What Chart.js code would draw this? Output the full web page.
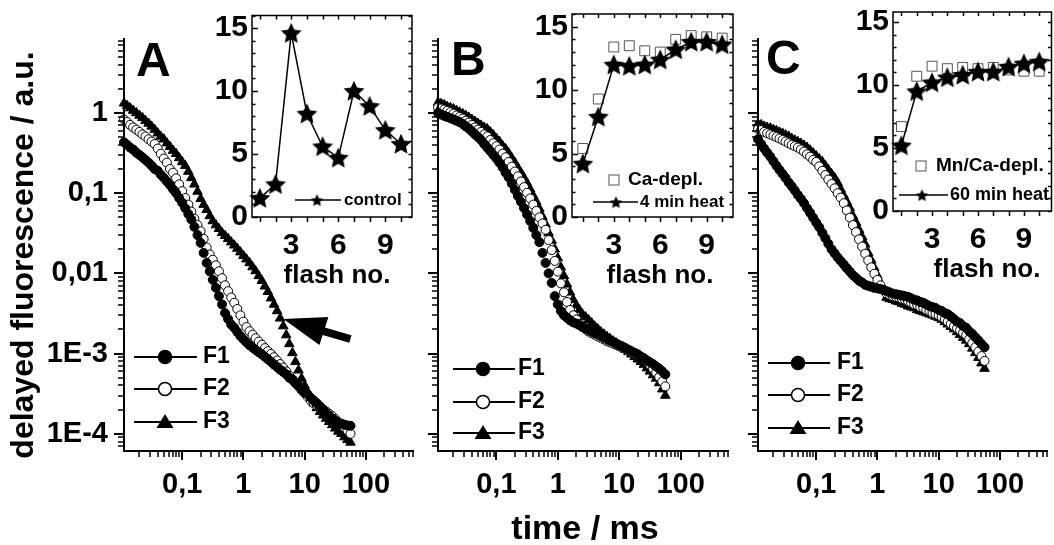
<!DOCTYPE html>
<html>
<head>
<meta charset="utf-8">
<script src="https://cdn.jsdelivr.net/npm/chart.js@4.4.1/dist/chart.umd.min.js"></script>
<style>
html, body { margin: 0; padding: 0; background: #fff; overflow: hidden; width: 1054px; height: 545px; position: relative; }
canvas { position: absolute; }
</style>
</head>
<body>
<script>
// time axis (ms), shared by all decay curves
const timeMs = [0.0112, 0.0126, 0.0141, 0.0158, 0.0178, 0.02, 0.0224, 0.0251, 0.0282, 0.0316, 0.0355, 0.0398, 0.0447, 0.0501, 0.0562, 0.0631, 0.0708, 0.0794, 0.0891,
  0.1, 0.112, 0.126, 0.141, 0.158, 0.178, 0.2, 0.224, 0.251, 0.282, 0.316, 0.355, 0.398, 0.447, 0.501, 0.562, 0.631, 0.708, 0.794, 0.891,
  1, 1.12, 1.26, 1.41, 1.58, 1.78, 2, 2.24, 2.51, 2.82, 3.16, 3.55, 3.98, 4.47, 5.01, 5.62, 6.31, 7.08, 7.94, 8.91,
  10, 11.2, 12.6, 14.1, 15.8, 17.8, 20, 22.4, 25.1, 28.2, 31.6, 35.5, 39.8, 44.7, 50.1, 56.2];

// panel A (control)
const panelA_F1 = [0.43, 0.40, 0.37, 0.35, 0.32, 0.30, 0.28, 0.26, 0.24, 0.22, 0.20, 0.19, 0.17, 0.155, 0.14, 0.126, 0.112, 0.1, 0.087,
  0.076, 0.065, 0.055, 0.047, 0.038, 0.030, 0.024, 0.018, 0.0135, 0.0106, 0.0083, 0.0066, 0.0052, 0.0041, 0.0032, 0.0027, 0.0023, 0.0021, 0.00186, 0.00166,
  0.00151, 0.00138, 0.00127, 0.00119, 0.00111, 0.00104, 0.00098, 0.00091, 0.00085, 0.00079, 0.00073, 0.00068, 0.00063, 0.00059, 0.00055, 0.00050, 0.00047, 0.00043, 0.00040, 0.00036,
  0.00033, 0.00031, 0.00028, 0.00026, 0.00024, 0.00022, 0.00020, 0.000182, 0.000168, 0.000155, 0.000146, 0.000138, 0.000133, 0.000130, 0.000127, 0.000126];
const panelA_F2 = [0.83, 0.77, 0.71, 0.66, 0.62, 0.58, 0.54, 0.51, 0.47, 0.44, 0.41, 0.36, 0.31, 0.27, 0.24, 0.20, 0.18, 0.153, 0.129,
  0.106, 0.087, 0.072, 0.059, 0.048, 0.040, 0.0335, 0.027, 0.021, 0.0172, 0.0148, 0.0126, 0.0106, 0.0087, 0.0071, 0.0060, 0.0050, 0.0043, 0.0036, 0.0030,
  0.0025, 0.00214, 0.0019, 0.00172, 0.00155, 0.00141, 0.00129, 0.00117, 0.00107, 0.00099, 0.0009, 0.00082, 0.00074, 0.00067, 0.0006, 0.00053, 0.00048, 0.00043, 0.00039, 0.00035,
  0.00032, 0.00029, 0.00026, 0.00024, 0.000226, 0.000214, 0.000202, 0.00019, 0.000178, 0.000166, 0.000153, 0.00014, 0.000132, 0.00012, 0.00011, 0.0001];
const panelA_F3 = [1.32, 1.23, 1.15, 1.07, 1.0, 0.93, 0.87, 0.80, 0.74, 0.68, 0.62, 0.56, 0.51, 0.47, 0.42, 0.38, 0.34, 0.31, 0.275,
  0.245, 0.22, 0.186, 0.155, 0.129, 0.105, 0.085, 0.072, 0.062, 0.052, 0.045, 0.040, 0.036, 0.032, 0.0295, 0.027, 0.0245, 0.0224, 0.0204, 0.0184,
  0.0166, 0.015, 0.0135, 0.012, 0.0107, 0.0093, 0.0081, 0.0069, 0.0059, 0.0049, 0.0041, 0.0034, 0.00275, 0.0022, 0.0017, 0.00132, 0.00102, 0.00079, 0.00062, 0.00049,
  0.00040, 0.00033, 0.00028, 0.00024, 0.00021, 0.000188, 0.00017, 0.000155, 0.000141, 0.000129, 0.000117, 0.000107, 0.0001, 0.000091, 0.000084, 0.000078];

// panel B
const panelB_F1 = [1.0, 0.955, 0.92, 0.89, 0.86, 0.83, 0.80, 0.77, 0.73, 0.68, 0.64, 0.59, 0.54, 0.50, 0.46, 0.41, 0.37, 0.335, 0.30,
  0.27, 0.24, 0.21, 0.18, 0.158, 0.132, 0.11, 0.092, 0.078, 0.065, 0.054, 0.045, 0.037, 0.030, 0.0245, 0.018, 0.0135, 0.01, 0.0076, 0.0052,
  0.0041, 0.0034, 0.0030, 0.0028, 0.0026, 0.00245, 0.00237, 0.00226, 0.00216, 0.00207, 0.00197, 0.00188, 0.0018, 0.00174, 0.00166, 0.00158, 0.00151, 0.00145, 0.0014, 0.00133,
  0.00127, 0.00123, 0.00117, 0.00112, 0.00107, 0.00102, 0.00098, 0.00092, 0.00087, 0.00082, 0.00078, 0.00074, 0.00069, 0.00065, 0.0006, 0.00055];
const panelB_F2 = [1.17, 1.135, 1.10, 1.06, 1.02, 0.98, 0.93, 0.89, 0.85, 0.80, 0.76, 0.71, 0.66, 0.62, 0.58, 0.54, 0.51, 0.46, 0.42,
  0.385, 0.35, 0.31, 0.28, 0.245, 0.214, 0.186, 0.162, 0.14, 0.119, 0.101, 0.086, 0.072, 0.06, 0.05, 0.042, 0.035, 0.026, 0.0195, 0.0143,
  0.0105, 0.0075, 0.0058, 0.0044, 0.0035, 0.003, 0.00266, 0.00234, 0.00216, 0.00202, 0.00188, 0.0018, 0.00172, 0.00164, 0.00157, 0.0015, 0.00143, 0.00138, 0.00133, 0.00129,
  0.00123, 0.00119, 0.00114, 0.00108, 0.00104, 0.00099, 0.00095, 0.00091, 0.00087, 0.00079, 0.00072, 0.00065, 0.00058, 0.00051, 0.00045, 0.00039];
const panelB_F3 = [1.35, 1.30, 1.26, 1.20, 1.16, 1.12, 1.07, 1.02, 0.98, 0.93, 0.88, 0.83, 0.785, 0.74, 0.70, 0.66, 0.63, 0.58, 0.53,
  0.48, 0.44, 0.39, 0.355, 0.316, 0.275, 0.24, 0.207, 0.18, 0.155, 0.133, 0.112, 0.093, 0.078, 0.064, 0.051, 0.041, 0.032, 0.0257, 0.02,
  0.0155, 0.0119, 0.0093, 0.0073, 0.0058, 0.0047, 0.004, 0.0035, 0.0031, 0.00285, 0.00263, 0.0024, 0.00219, 0.00202, 0.00186, 0.00174, 0.00162, 0.00153, 0.00143, 0.00135,
  0.00127, 0.0012, 0.00112, 0.00105, 0.00098, 0.00091, 0.00085, 0.00079, 0.00073, 0.00066, 0.0006, 0.00054, 0.00049, 0.00043, 0.00036, 0.0003];

// panel C
const panelC_F1 = [0.47, 0.41, 0.36, 0.32, 0.285, 0.25, 0.22, 0.195, 0.174, 0.155, 0.136, 0.122, 0.108, 0.095, 0.085, 0.075, 0.065, 0.057, 0.0495,
  0.043, 0.0376, 0.032, 0.0275, 0.0234, 0.02, 0.0178, 0.0158, 0.0143, 0.0129, 0.0116, 0.0105, 0.0095, 0.0088, 0.0081, 0.0077, 0.0072, 0.007, 0.0068, 0.0066,
  0.0065, 0.0064, 0.0062, 0.006, 0.0058, 0.0056, 0.0055, 0.0054, 0.0053, 0.0052, 0.0051, 0.0049, 0.0047, 0.0046, 0.0044, 0.0043, 0.0041, 0.0039, 0.0038, 0.0037,
  0.0035, 0.0034, 0.0032, 0.0031, 0.0029, 0.0027, 0.0025, 0.0024, 0.0022, 0.0021, 0.0019, 0.00176, 0.0016, 0.00146, 0.00132, 0.0012];
const panelC_F2 = [0.63, 0.61, 0.58, 0.56, 0.54, 0.52, 0.50, 0.48, 0.46, 0.44, 0.42, 0.40, 0.385, 0.37, 0.35, 0.33, 0.305, 0.285, 0.26,
  0.245, 0.216, 0.19, 0.168, 0.148, 0.13, 0.115, 0.1, 0.088, 0.075, 0.061, 0.0495, 0.04, 0.0327, 0.0266, 0.0216, 0.0176, 0.0145, 0.0119, 0.0099,
  0.0083, 0.0071, 0.0062, 0.0056, 0.0054, 0.0052, 0.0051, 0.005, 0.0048, 0.0047, 0.0045, 0.0043, 0.0041, 0.004, 0.0038, 0.0037, 0.0035, 0.0034, 0.0032, 0.0031,
  0.003, 0.00285, 0.0027, 0.0025, 0.00234, 0.0022, 0.00207, 0.00195, 0.00182, 0.0017, 0.00151, 0.00135, 0.0012, 0.00106, 0.00093, 0.00081];
const panelC_F3 = [0.73, 0.71, 0.68, 0.66, 0.645, 0.62, 0.60, 0.575, 0.556, 0.53, 0.51, 0.48, 0.457, 0.437, 0.417, 0.394, 0.37, 0.343, 0.316,
  0.29, 0.266, 0.245, 0.219, 0.195, 0.174, 0.155, 0.135, 0.112, 0.093, 0.078, 0.065, 0.052, 0.043, 0.035, 0.0285, 0.023, 0.018, 0.0146, 0.0117,
  0.0094, 0.0076, 0.0062, 0.005, 0.0048, 0.0047, 0.0045, 0.0044, 0.0042, 0.0041, 0.0039, 0.0038, 0.0037, 0.0035, 0.0034, 0.0033, 0.0032, 0.0031, 0.003, 0.0029,
  0.0028, 0.00266, 0.00248, 0.00232, 0.00216, 0.00202, 0.00186, 0.00172, 0.00158, 0.00146, 0.00132, 0.00116, 0.00102, 0.00089, 0.00076, 0.00065];

// insets: amplitude vs flash number
const flashNo = [1, 2, 3, 4, 5, 6, 7, 8, 9, 10];
const insetA_control = [1.5, 2.6, 14.6, 8.2, 5.6, 4.7, 10.0, 8.8, 6.9, 5.8];
const insetB_caDepl = [5.4, 9.3, 13.4, 13.5, 13.1, 13.0, 14.0, 14.3, 14.2, 14.1];
const insetB_heat4 = [4.2, 7.9, 12.0, 11.9, 12.0, 12.4, 13.2, 13.8, 13.8, 13.6];
const insetC_mnCaDepl = [6.7, 10.7, 11.5, 11.3, 11.4, 11.3, 11.4, 11.2, 11.1, 11.1];
const insetC_heat60 = [5.2, 9.5, 10.2, 10.6, 10.8, 11.05, 11.05, 11.45, 11.7, 11.85];

const seriesNames = ['F1', 'F2', 'F3'];
const xTickValues = [0.1, 1, 10, 100];
const xTickLabels = ['0,1', '1', '10', '100'];
const yTickValues = [0.0001, 0.001, 0.01, 0.1, 1];
const yTickLabels = ['1E-4', '1E-3', '0,01', '0,1', '1'];
const flashTickValues = [3, 6, 9];
const flashTickLabels = ['3', '6', '9'];
const insetYTickValues = [0, 5, 10, 15];
const insetYTickLabels = ['0', '5', '10', '15'];

const arrowTip = {t: 4.5, v: 0.0027};

const FONT = '"Liberation Sans", Arial, Helvetica, sans-serif';
const OY = 40, CW = 1064, CH = 585;
const X_RANGE = [0.0112, 612];
const Y_RANGE = [6.1e-5, 8.6];

function addCanvas() {
  const c = document.createElement('canvas');
  c.width = CW; c.height = CH;
  c.style.left = '0px'; c.style.top = (-OY) + 'px';
  c.style.width = CW + 'px'; c.style.height = CH + 'px';
  document.body.appendChild(c);
  return c;
}

const pts = (xs, ys) => xs.map((x, i) => ({x: x, y: ys[i]}));

function txt(ctx, s, x, y, size, align, base) {
  ctx.font = 'bold ' + size + 'px ' + FONT;
  ctx.textAlign = align || 'left';
  ctx.textBaseline = base || 'alphabetic';
  ctx.fillText(s, x, y);
}

function seg(ctx, x1, y1, x2, y2) {
  ctx.beginPath(); ctx.moveTo(x1, y1); ctx.lineTo(x2, y2); ctx.stroke();
}

function starCanvas(R) {
  const s = Math.ceil(R * 2 + 2);
  const c = document.createElement('canvas');
  c.width = s; c.height = s;
  const g = c.getContext('2d');
  g.fillStyle = '#000';
  g.beginPath();
  for (let i = 0; i < 10; i++) {
    const r = i % 2 ? R * 0.48 : R;
    const a = -Math.PI / 2 + i * Math.PI / 5;
    g.lineTo(s / 2 + r * Math.cos(a), s / 2 + 0.8 + r * Math.sin(a));
  }
  g.closePath(); g.fill();
  return c;
}
const starBig = starCanvas(11);
const starSmall = starCanvas(6.5);

function logTicks(scale) {
  const out = [];
  const lo = Math.floor(Math.log10(scale.min)), hi = Math.ceil(Math.log10(scale.max));
  for (let e = lo; e <= hi; e++) {
    for (let k = 1; k <= 9; k++) {
      const v = k * Math.pow(10, e);
      if (v >= scale.min && v <= scale.max) out.push({v: v, major: k === 1});
    }
  }
  return out;
}

function legendMarker(ctx, i, x, y) {
  ctx.beginPath();
  if (i < 2) {
    ctx.arc(x, y, 6.5, 0, Math.PI * 2);
    ctx.fillStyle = i === 0 ? '#000' : '#fff';
    ctx.fill();
    ctx.lineWidth = 1.5; ctx.stroke();
  } else {
    ctx.moveTo(x, y - 8); ctx.lineTo(x + 8.5, y + 6); ctx.lineTo(x - 8.5, y + 6); ctx.closePath();
    ctx.fillStyle = '#000'; ctx.fill();
  }
  ctx.fillStyle = '#000';
}

function decorMain(chart, p) {
  const ctx = chart.ctx, a = chart.chartArea, xs = chart.scales.x, ys = chart.scales.y;
  ctx.save();
  ctx.strokeStyle = '#000'; ctx.fillStyle = '#000';
  ctx.lineWidth = 2;
  ctx.beginPath(); ctx.moveTo(a.left, a.top); ctx.lineTo(a.left, a.bottom); ctx.lineTo(a.right, a.bottom); ctx.stroke();
  logTicks(xs).forEach(t => {
    const px = Math.round(xs.getPixelForValue(t.v));
    ctx.lineWidth = t.major ? 2 : 1.5;
    seg(ctx, px, a.bottom, px, a.bottom + (t.major ? 9 : 6));
  });
  logTicks(ys).forEach(t => {
    const py = Math.round(ys.getPixelForValue(t.v));
    ctx.lineWidth = t.major ? 2 : 1.5;
    seg(ctx, a.left, py, a.left - (t.major ? 10 : 6), py);
  });
  if (p.arrow) {
    const tx = xs.getPixelForValue(arrowTip.t), ty = ys.getPixelForValue(arrowTip.v);
    ctx.beginPath(); ctx.moveTo(tx, ty); ctx.lineTo(tx + 45, ty - 2); ctx.lineTo(tx + 36, ty + 26); ctx.closePath(); ctx.fill();
    ctx.lineWidth = 8;
    seg(ctx, tx + 36, ty + 11, tx + 67, ty + 20);
  }
  ctx.translate(0, OY);
  const lg = p.legend;
  lg.ys.forEach((y, i) => {
    ctx.lineWidth = 2;
    seg(ctx, lg.x1, y, lg.x2, y);
    legendMarker(ctx, i, lg.xm, y);
    txt(ctx, seriesNames[i], lg.xt, y, 23, 'left', 'middle');
  });
  txt(ctx, p.letter, p.letterX, p.letterY, 48, 'left', 'alphabetic');
  if (p.yTitle) {
    ctx.save(); ctx.translate(24, 255); ctx.rotate(-Math.PI / 2);
    txt(ctx, p.yTitle, 0, 0, 32, 'center', 'middle');
    ctx.restore();
  }
  if (p.xTitle) txt(ctx, p.xTitle, 585, 539, 34, 'center', 'alphabetic');
  ctx.restore();
}

function mainChart(p) {
  const yW = 110, xH = 60;
  const tickFont = {family: FONT, size: 29, weight: 'bold'};
  return new Chart(addCanvas(), {
    type: 'scatter',
    data: {
      datasets: [
        {label: 'F1', data: pts(timeMs, p.series[0]), pointStyle: 'circle', pointRadius: 4.5, pointBackgroundColor: '#000', pointBorderColor: '#000', pointBorderWidth: 1, clip: false},
        {label: 'F2', data: pts(timeMs, p.series[1]), pointStyle: 'circle', pointRadius: 4.5, pointBackgroundColor: '#fff', pointBorderColor: '#000', pointBorderWidth: 1, clip: false},
        {label: 'F3', data: pts(timeMs, p.series[2]), pointStyle: 'triangle', pointRadius: 5.5, pointBackgroundColor: '#000', pointBorderColor: '#000', pointBorderWidth: 1, clip: false}
      ]
    },
    options: {
      responsive: false, animation: false, devicePixelRatio: 1, events: [],
      layout: {padding: {left: p.box.left - yW, right: CW - p.box.right, top: p.box.top + OY, bottom: CH - (p.box.bottom + OY) - xH}},
      plugins: {legend: {display: false}, tooltip: {enabled: false}},
      scales: {
        x: {
          type: 'logarithmic', min: X_RANGE[0], max: X_RANGE[1],
          grid: {display: false, drawTicks: false}, border: {display: false},
          afterBuildTicks: s => { s.ticks = xTickValues.map(v => ({value: v})); },
          afterFit: s => { s.height = xH; },
          ticks: {autoSkip: false, maxRotation: 0, padding: 17, color: '#000', font: tickFont, callback: (v, i) => xTickLabels[i]}
        },
        y: {
          type: 'logarithmic', min: Y_RANGE[0], max: Y_RANGE[1],
          grid: {display: false, drawTicks: false}, border: {display: false},
          afterBuildTicks: s => { s.ticks = yTickValues.map(v => ({value: v})); },
          afterFit: s => { s.width = yW; },
          ticks: {display: p.yLabels, autoSkip: false, padding: 16, color: '#000', font: tickFont, callback: (v, i) => yTickLabels[i]}
        }
      }
    },
    plugins: [{id: 'panelDecor', afterDraw: c => decorMain(c, p)}]
  });
}

function decorInset(chart, p) {
  const ctx = chart.ctx, a = chart.chartArea, xs = chart.scales.x, ys = chart.scales.y;
  ctx.save();
  ctx.strokeStyle = '#000'; ctx.fillStyle = '#000';
  ctx.lineWidth = 1.5;
  ctx.strokeRect(a.left, a.top, a.right - a.left, a.bottom - a.top);
  for (let f = Math.ceil(xs.min); f <= xs.max; f++) {
    const px = Math.round(xs.getPixelForValue(f)) + 0.5;
    seg(ctx, px, a.bottom, px, a.bottom + 5);
    seg(ctx, px, a.top, px, a.top + 4);
  }
  for (let v = 0; v <= ys.max; v++) {
    const py = Math.round(ys.getPixelForValue(v)) + 0.5;
    seg(ctx, a.left, py, a.left + (v % 5 === 0 ? 6 : 3.5), py);
    seg(ctx, a.right, py, a.right - 3.5, py);
  }
  ctx.translate(0, OY);
  const lg = p.legend;
  if (lg.sq) {
    ctx.fillStyle = '#fff'; ctx.strokeStyle = '#555'; ctx.lineWidth = 1;
    ctx.fillRect(lg.sq.x - 5, lg.sq.y - 5, 10, 10);
    ctx.strokeRect(lg.sq.x - 5, lg.sq.y - 5, 10, 10);
    ctx.fillStyle = '#000'; ctx.strokeStyle = '#000';
    txt(ctx, p.squareLabel, lg.sq.tx, lg.sq.y, lg.sq.size, 'left', 'middle');
  }
  ctx.lineWidth = 1.5;
  seg(ctx, lg.st.x1, lg.st.y, lg.st.x2, lg.st.y);
  ctx.drawImage(starSmall, lg.st.xs - starSmall.width / 2, lg.st.y - starSmall.height / 2);
  txt(ctx, p.starLabel, lg.st.tx, lg.st.y, lg.st.size, 'left', 'middle');
  txt(ctx, 'flash no.', p.titleX, p.titleY, 26, 'center', 'alphabetic');
  ctx.restore();
}

function insetChart(p) {
  const yW = 50, xH = 50;
  const tickFont = {family: FONT, size: 30, weight: 'bold'};
  const ds = [{label: p.starLabel, data: pts(flashNo, p.stars), showLine: true, borderColor: '#000', borderWidth: 1.5,
    pointStyle: starBig, pointRadius: 11, clip: false}];
  if (p.squares) {
    ds.push({label: p.squareLabel, data: pts(flashNo, p.squares), showLine: false, pointStyle: 'rect', pointRadius: 7,
      pointBackgroundColor: '#fff', pointBorderColor: '#555', pointBorderWidth: 1, clip: false});
  }
  return new Chart(addCanvas(), {
    type: 'scatter',
    data: {datasets: ds},
    options: {
      responsive: false, animation: false, devicePixelRatio: 1, events: [],
      layout: {padding: {left: p.box.left - yW, right: CW - p.box.right, top: p.box.top + OY, bottom: CH - (p.box.bottom + OY) - xH}},
      plugins: {legend: {display: false}, tooltip: {enabled: false}},
      scales: {
        x: {
          type: 'linear', min: p.xMin, max: p.xMax,
          grid: {display: false, drawTicks: false}, border: {display: false},
          afterBuildTicks: s => { s.ticks = flashTickValues.map(v => ({value: v})); },
          afterFit: s => { s.height = xH; },
          ticks: {autoSkip: false, maxRotation: 0, padding: 11, color: '#000', font: tickFont, callback: (v, i) => flashTickLabels[i]}
        },
        y: {
          type: 'linear', min: 0, max: p.yMax,
          grid: {display: false, drawTicks: false}, border: {display: false},
          afterBuildTicks: s => { s.ticks = insetYTickValues.map(v => ({value: v})); },
          afterFit: s => { s.width = yW; },
          ticks: {autoSkip: false, padding: 4, color: '#000', font: tickFont, callback: (v, i) => insetYTickLabels[i]}
        }
      }
    },
    plugins: [{
      id: 'insetDecor',
      beforeDatasetsDraw: c => {
        const a = c.chartArea;
        c.ctx.save(); c.ctx.fillStyle = '#fff'; c.ctx.fillRect(a.left, a.top, a.right - a.left, a.bottom - a.top); c.ctx.restore();
      },
      afterDraw: c => decorInset(c, p)
    }]
  });
}

mainChart({
  box: {left: 124, right: 414, top: 38, bottom: 451},
  series: [panelA_F1, panelA_F2, panelA_F3], yLabels: true,
  legend: {x1: 134, x2: 197, xm: 165, xt: 203, ys: [357, 389, 422]},
  letter: 'A', letterX: 136, letterY: 76, arrow: true,
  yTitle: 'delayed fluorescence / a.u.'
});
mainChart({
  box: {left: 438, right: 729, top: 38, bottom: 451},
  series: [panelB_F1, panelB_F2, panelB_F3], yLabels: false,
  legend: {x1: 453, x2: 515, xm: 483, xt: 518, ys: [369, 402, 433]},
  letter: 'B', letterX: 451, letterY: 75,
  xTitle: 'time / ms'
});
mainChart({
  box: {left: 758, right: 1048, top: 38, bottom: 451},
  series: [panelC_F1, panelC_F2, panelC_F3], yLabels: false,
  legend: {x1: 768, x2: 830, xm: 798, xt: 837, ys: [363, 395, 428]},
  letter: 'C', letterX: 766, letterY: 74
});

insetChart({
  box: {left: 252, right: 412, top: 15.5, bottom: 217}, xMin: 0.5, xMax: 10.7, yMax: 16,
  stars: insetA_control, starLabel: 'control',
  legend: {st: {x1: 295, x2: 341, xs: 317, y: 200, tx: 344, size: 17}},
  titleX: 337, titleY: 283
});
insetChart({
  box: {left: 572, right: 733, top: 14, bottom: 217}, xMin: 0.3, xMax: 10.7, yMax: 16,
  stars: insetB_heat4, starLabel: '4 min heat', squares: insetB_caDepl, squareLabel: 'Ca-depl.',
  legend: {sq: {x: 614, y: 180, tx: 628, size: 19}, st: {x1: 593, x2: 638, xs: 616, y: 202, tx: 640, size: 17}},
  titleX: 660, titleY: 283
});
insetChart({
  box: {left: 893, right: 1056, top: 12, bottom: 211}, xMin: 0.45, xMax: 10.8, yMax: 15.8,
  stars: insetC_heat60, starLabel: '60 min heat', squares: insetC_mnCaDepl, squareLabel: 'Mn/Ca-depl.',
  legend: {sq: {x: 921, y: 166, tx: 936, size: 19}, st: {x1: 899, x2: 948, xs: 922, y: 195, tx: 950, size: 18}},
  titleX: 987, titleY: 277
});
</script>
</body>
</html>
